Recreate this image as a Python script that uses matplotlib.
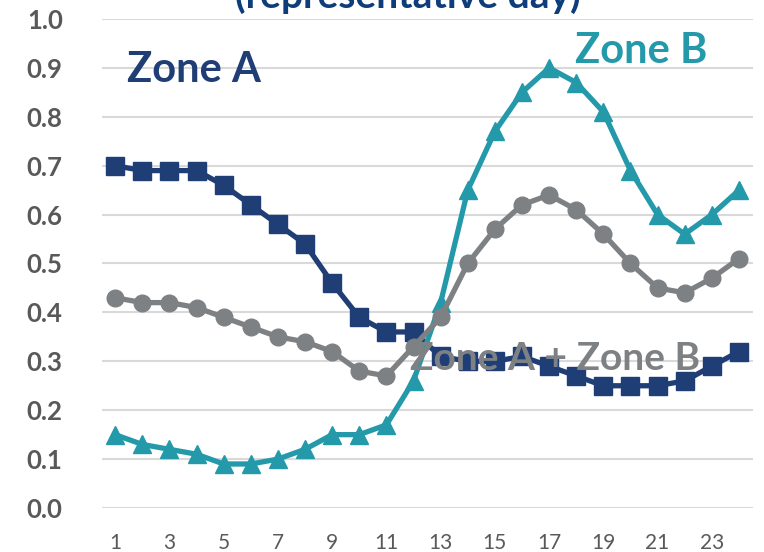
import numpy as np
import matplotlib
matplotlib.use('Agg')
from matplotlib import pyplot as plt

plt.rcParams['font.family'] = ['Lato', 'DejaVu Sans']

# hourly values (representative day)
hours = list(range(1, 25))
zone_a = [0.70, 0.69, 0.69, 0.69, 0.66, 0.62, 0.58, 0.54, 0.46, 0.39, 0.36, 0.36,
          0.31, 0.30, 0.30, 0.31, 0.29, 0.27, 0.25, 0.25, 0.25, 0.26, 0.29, 0.32]
zone_b = [0.15, 0.13, 0.12, 0.11, 0.09, 0.09, 0.10, 0.12, 0.15, 0.15, 0.17, 0.26,
          0.42, 0.65, 0.77, 0.85, 0.90, 0.87, 0.81, 0.69, 0.60, 0.56, 0.60, 0.65]
zone_ab = [0.43, 0.42, 0.42, 0.41, 0.39, 0.37, 0.35, 0.34, 0.32, 0.28, 0.27, 0.33,
           0.39, 0.50, 0.57, 0.62, 0.64, 0.61, 0.56, 0.50, 0.45, 0.44, 0.47, 0.51]
xticks = list(range(1, 24, 2))
yticks = [0.0, 0.1, 0.2, 0.3, 0.4, 0.5, 0.6, 0.7, 0.8, 0.9, 1.0]

navy = '#1f3e76'
teal = '#2399a9'
grey = '#7e8184'

fig = plt.figure(figsize=(7.64, 5.52), dpi=100)
ax = fig.add_axes((0.133, 0.0797, 0.852, 0.8859))

ax.plot(hours, zone_a, color=navy, lw=3.8, marker='s', ms=13, zorder=3)
ax.plot(hours, zone_b, color=teal, lw=3.8, marker='^', ms=13, zorder=4)
ax.plot(hours, zone_ab, color=grey, lw=3.8, marker='o', ms=12, zorder=5)

ax.set_xlim(0.5, 24.5)
ax.set_ylim(0, 1.0)
ax.set_xticks(xticks)
ax.set_yticks(yticks)
ax.set_yticklabels(['%.1f' % v for v in yticks])
ax.grid(axis='y', color='#d9d9d9', lw=1.5, zorder=0)
ax.set_axisbelow(True)
for s in ax.spines.values():
    s.set_visible(False)
ax.tick_params(length=0)
ax.tick_params(axis='y', pad=28, labelsize=18.5, labelcolor='#595959')
ax.tick_params(axis='x', pad=18, labelsize=15, labelcolor='#595959')
for lab in ax.get_yticklabels():
    lab.set_fontweight('bold')

ax.text(1.44, 0.871, 'Zone A', color=navy, fontsize=30, fontweight='bold', zorder=6)
ax.text(17.95, 0.91, 'Zone B', color=teal, fontsize=30, fontweight='bold', zorder=6)
ax.text(11.87, 0.282, 'Zone A + Zone B', color=grey, fontsize=28, fontweight='bold', zorder=6)

# title runs off the top edge, as in the source image
fig.text(0.534, 0.9855, '(representative day)', ha='center', va='baseline',
         color='#0d3d7a', fontsize=28, fontweight='bold')

fig.savefig('out.png', dpi=100)
